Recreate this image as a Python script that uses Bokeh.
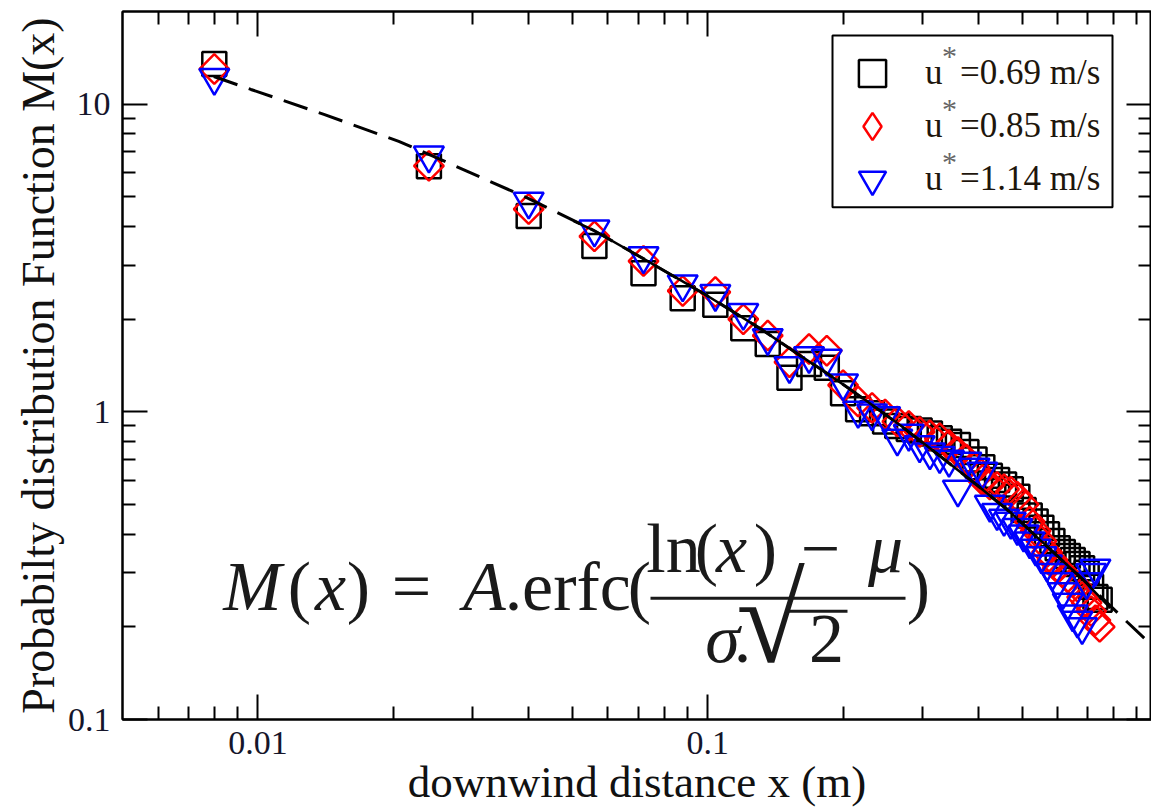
import numpy as np
from math import log10
from bokeh.plotting import figure
from bokeh.models import (Range1d, LogAxis, FixedTicker, Legend, LegendItem,
                          Label, BoxAnnotation)
from bokeh.embed import file_html
from bokeh.resources import INLINE

# ---------------- data ----------------
x_bins = [0.008, 0.024, 0.040, 0.056, 0.072, 0.088, 0.104, 0.120, 0.136, 0.152,
          0.168, 0.184, 0.200, 0.216, 0.232, 0.248, 0.264, 0.280, 0.296, 0.312,
          0.328, 0.344, 0.360, 0.376, 0.392, 0.408, 0.424, 0.440, 0.456, 0.472,
          0.488, 0.504, 0.520, 0.536, 0.552, 0.568, 0.584, 0.600, 0.616, 0.632,
          0.648, 0.664, 0.680, 0.696, 0.712, 0.728, 0.744]

m_069 = [13.5, 6.28, 4.33, 3.46, 2.82, 2.34, 2.23, 1.87, 1.66, 1.29,
         1.43, 1.39, 1.15, 1.02, 0.99, 0.93, 0.90, 0.88, 0.87, 0.85,
         0.82, 0.80, 0.78, 0.74, 0.70, 0.66, 0.62, 0.60, 0.58, 0.56,
         0.53, 0.48, 0.46, 0.44, 0.42, 0.40, 0.38, 0.36, 0.35, 0.34,
         0.33, 0.32, 0.31, 0.30, 0.27, 0.25, 0.245]

m_085 = [13.0, 6.30, 4.56, 3.72, 3.09, 2.47, 2.45, 2.00, 1.77, 1.45,
         1.60, 1.58, 1.22, 1.08, 1.03, 0.98, 0.93, 0.90, 0.86, 0.84,
         0.82, 0.78, 0.74, 0.70, 0.66, 0.60, 0.58, 0.57, 0.56, 0.55,
         0.53, 0.50, 0.44, 0.41, 0.38, 0.35, 0.33, 0.31, 0.30, 0.29,
         0.28, 0.27, 0.25, 0.24, 0.225, 0.21, 0.20]

x_114 = x_bins[:46]
m_114 = [12.2, 6.82, 4.83, 3.92, 3.21, 2.60, 2.42, 2.10, 1.74, 1.41,
         1.52, 1.49, 1.24, 1.01, 0.99, 0.97, 0.82, 0.85, 0.78, 0.74,
         0.72, 0.70, 0.56, 0.69, 0.66, 0.64, 0.50, 0.47, 0.45, 0.44,
         0.42, 0.40, 0.38, 0.36, 0.34, 0.32, 0.30, 0.28, 0.26, 0.24,
         0.22, 0.21, 0.20, 0.28, 0.30, 0.31]

fit_x = [0.00798, 0.00965, 0.01402, 0.02057, 0.02399, 0.0398, 0.0561, 0.0721,
         0.1, 0.1312, 0.1609, 0.1848, 0.2188, 0.2685, 0.3295, 0.398, 0.4713,
         0.5495, 0.6848, 0.8577, 0.9698]
fit_y = [12.30, 11.16, 9.26, 7.57, 6.87, 4.95, 3.87, 3.14, 2.38, 1.86, 1.52,
         1.33, 1.12, 0.902, 0.716, 0.576, 0.471, 0.382, 0.284, 0.207, 0.1746]

solid_x = [0.0504, 0.0561, 0.0721, 0.1, 0.1312, 0.1609, 0.1848, 0.2188, 0.2685,
           0.3295, 0.398, 0.4713, 0.5495, 0.6848, 0.786]
solid_y = [4.17, 3.87, 3.14, 2.38, 1.86, 1.52, 1.33, 1.12, 0.902, 0.716, 0.576,
           0.471, 0.382, 0.284, 0.230]

legend_labels = ["u\u2002=0.69 m/s", "u\u2002=0.85 m/s", "u\u2002=1.14 m/s"]

x_major = [0.01, 0.1]
x_minor = [0.006, 0.007, 0.008, 0.009, 0.02, 0.03, 0.04, 0.05, 0.06, 0.07,
           0.08, 0.09, 0.2, 0.3, 0.4, 0.5, 0.6, 0.7, 0.8, 0.9]
y_major = [0.1, 1, 10]
y_minor = [0.2, 0.3, 0.4, 0.5, 0.6, 0.7, 0.8, 0.9, 2, 3, 4, 5, 6, 7, 8, 9]
x_tick_text = ["0.01", "0.1"]
y_tick_text = ["0.1", "1", "10"]

X0, X1 = 0.005, 0.97
Y0, Y1 = 0.1, 20.0

# pixel geometry of the frame (used to place annotations)
FL, FR, FT, FB = 122, 1151, 11, 720


def px2x(px):
    return 10 ** (log10(X0) + (px - FL) / (FR - FL) * log10(X1 / X0))


def py2y(py):
    return 10 ** (log10(Y0) + (FB - py) / (FB - FT) * log10(Y1 / Y0))


SERIF = "Liberation Serif"

p = figure(width=1151, height=809, x_axis_type="log", y_axis_type="log",
           x_range=Range1d(X0, X1), y_range=Range1d(Y0, Y1),
           output_backend="svg", toolbar_location=None,
           min_border_left=FL, min_border_right=0, min_border_top=FT,
           min_border_bottom=89)
p.xgrid.visible = False
p.ygrid.visible = False
p.outline_line_color = "black"
p.outline_line_width = 2
p.background_fill_color = "white"
p.border_fill_color = "white"


def style(ax, ticks, minor, texts):
    ax.ticker = FixedTicker(ticks=ticks, minor_ticks=minor)
    ax.axis_line_color = "black"
    ax.axis_line_width = 2
    ax.major_tick_in = 25
    ax.major_tick_out = 0
    ax.minor_tick_in = 13
    ax.minor_tick_out = 0
    ax.major_tick_line_width = 2
    ax.minor_tick_line_width = 2
    ax.major_tick_line_color = "black"
    ax.minor_tick_line_color = "black"
    ax.major_label_text_font = SERIF
    if texts is not None:
        ax.major_label_text_font_size = "34px"
        ax.major_label_text_color = "#15152a"
        ax.major_label_standoff = 12
        ax.major_label_overrides = {t: s for t, s in zip(ticks, texts)}
    else:
        ax.major_label_text_font_size = "10px"
        ax.major_label_standoff = 0
        ax.major_label_text_color = None


style(p.xaxis[0], x_major, x_minor, x_tick_text)
style(p.yaxis[0], y_major, y_minor, y_tick_text)

p.xaxis.axis_label = "downwind distance x (m)"
p.yaxis.axis_label = "Probabilty distribution Function M(x)"
for ax in (p.xaxis[0], p.yaxis[0]):
    ax.axis_label_text_font = SERIF
    ax.axis_label_text_font_style = "normal"
    ax.axis_label_text_color = "#111111"
p.xaxis[0].axis_label_text_font_size = "45px"
p.yaxis[0].axis_label_text_font_size = "46px"
p.xaxis[0].axis_label_standoff = 0
p.yaxis[0].axis_label_standoff = 1

top_ax = LogAxis()
style(top_ax, x_major, x_minor, None)
p.add_layout(top_ax, "above")
right_ax = LogAxis()
style(right_ax, y_major, y_minor, None)
p.add_layout(right_ax, "right")

# ---------------- data marks ----------------
sq = p.scatter(x_bins, m_069, marker="square", size=24, fill_color=None,
               line_color="black", line_width=2.5)
dm = p.scatter(x_bins, m_085, marker="square", angle=np.pi / 4, size=21,
               fill_color=None, line_color="red", line_width=2.5)
tr = p.scatter(x_114, m_114, marker="inverted_triangle", size=30,
               fill_color=None, line_color="blue", line_width=2.5)
# same red series as a zero-size diamond: only used for the legend key
dm_key = p.scatter(x_bins, m_085, marker="diamond", size=0, fill_color=None,
                   line_color="red", line_width=2.5)

p.line(solid_x, solid_y, line_color="black", line_width=2.5)
p.line(fit_x, fit_y, line_color="black", line_width=3, line_dash="25 12")

# ---------------- legend ----------------
p.add_layout(BoxAnnotation(left=px2x(832), right=px2x(1112), top=py2y(35),
                           bottom=py2y(207), fill_color="white", fill_alpha=1,
                           line_color="black", line_width=2, line_alpha=1))

for lab, rend, ly in zip(legend_labels, [sq, dm_key, tr], [612, 559, 506]):
    lg = Legend(items=[LegendItem(label=lab, renderers=[rend])],
                location=(716, ly))
    lg.label_text_font = SERIF
    lg.label_text_font_size = "35px"
    lg.label_text_color = "#1e160c"
    lg.glyph_width = 68
    lg.glyph_height = 68
    lg.label_height = 68
    lg.label_standoff = 19
    lg.spacing = 0
    lg.padding = 13
    lg.margin = 0
    lg.border_line_color = None
    lg.background_fill_alpha = 0
    p.add_layout(lg)

TXT_SHIFT = 0.4  # label baseline correction, in em


def tx(s, cx, by, size=70, italic=False, color="#1a1a1a"):
    p.add_layout(Label(x=px2x(cx), y=py2y(by - TXT_SHIFT * size), text=s,
                       text_font=SERIF, text_font_size=f"{size}px",
                       text_align="center", text_baseline="alphabetic",
                       text_color=color,
                       text_font_style="italic" if italic else "normal"))


for by in (67, 120, 173):
    tx("*", 949, by, size=30, color="#666666")

# ---------------- formula ----------------
BASE = 615
tx("M", 252, BASE, italic=True)
tx("(", 299, BASE)
tx("x", 330, BASE, italic=True)
tx(")", 358, BASE)
tx("=", 411, BASE)
tx("A", 484, BASE, italic=True)
tx(".", 513, BASE)
tx("erfc", 576, BASE)
tx("(", 639, BASE)
NUM = 577
tx("ln", 673, NUM)
tx("(", 706, NUM)
tx("x", 731, NUM, italic=True)
tx(")", 765, NUM)
tx("\u2212", 820, NUM)
tx("\u03bc", 885, NUM, italic=True)
DEN = 667
tx("\u03c3", 722, DEN, italic=True)
tx(".", 742, DEN)
tx("\u221a", 770, 670, size=125)
tx("2", 826, DEN)
tx(")", 918, BASE)
p.add_layout(BoxAnnotation(left=px2x(650), right=px2x(905), bottom=py2y(600),
                           top=py2y(597), fill_color="#1a1a1a", fill_alpha=1,
                           line_color=None))
p.add_layout(BoxAnnotation(left=px2x(785), right=px2x(847), bottom=py2y(613),
                           top=py2y(610), fill_color="#1a1a1a", fill_alpha=1,
                           line_color=None))

open("out.html", "w").write(file_html(p, INLINE))
